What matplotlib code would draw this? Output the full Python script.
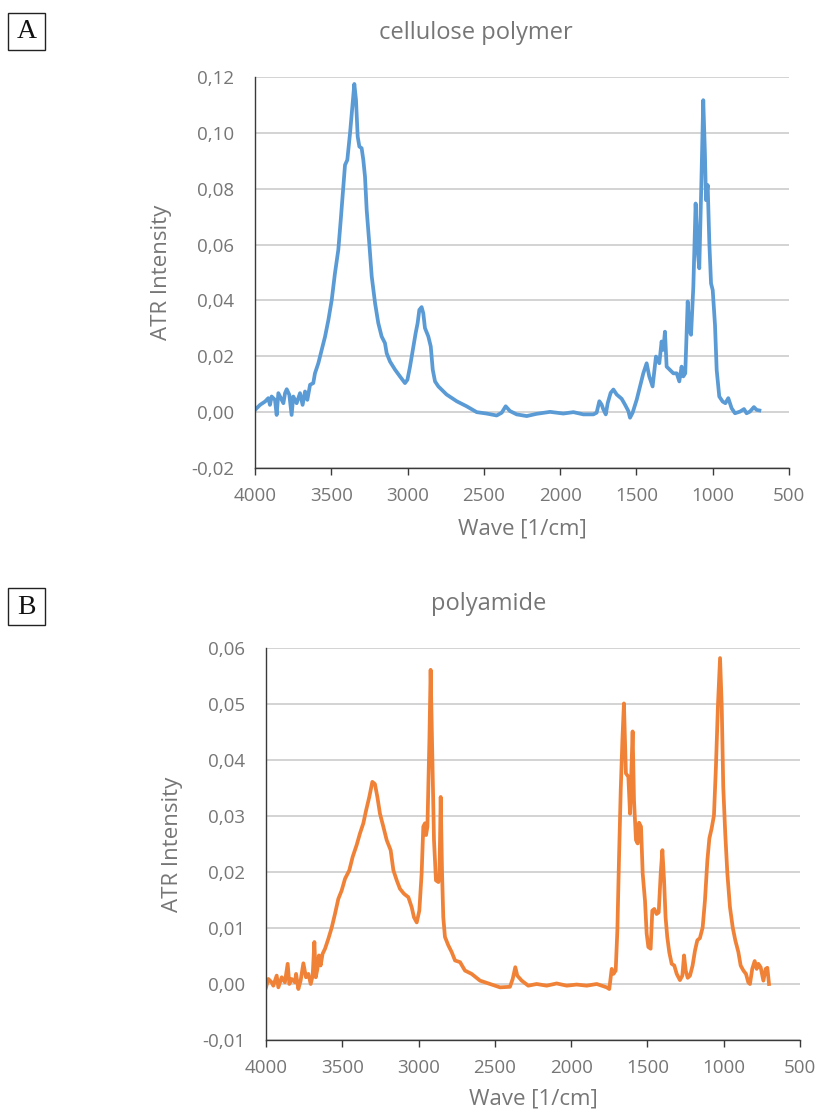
import matplotlib
matplotlib.use('Agg')
import matplotlib.pyplot as plt
from matplotlib.patches import Rectangle
from matplotlib.ticker import FuncFormatter

# === DATA ===
wn_a = [4000, 3967, 3934, 3913, 3902, 3891, 3869, 3858, 3847, 3825, 3814, 3803, 3792,
        3775, 3760, 3749, 3727, 3705, 3688, 3672, 3657, 3639, 3618, 3607, 3585, 3563,
        3541, 3519, 3497, 3476, 3454, 3438, 3421, 3410, 3395, 3377, 3360, 3349, 3338,
        3327, 3316, 3301, 3290, 3279, 3268, 3251, 3235, 3213, 3192, 3170, 3148, 3137,
        3115, 3082, 3050, 3017, 3001, 2984, 2962, 2947, 2934, 2923, 2908, 2897, 2886,
        2864, 2848, 2835, 2820, 2798, 2765, 2744, 2678, 2613, 2547, 2482, 2416, 2383,
        2357, 2329, 2285, 2219, 2154, 2066, 1979, 1913, 1848, 1782, 1761, 1743, 1728,
        1717, 1701, 1688, 1669, 1651, 1629, 1597, 1575, 1553, 1542, 1525, 1498, 1476,
        1455, 1433, 1416, 1394, 1372, 1350, 1335, 1324, 1313, 1302, 1280, 1258, 1236,
        1219, 1204, 1193, 1180, 1164, 1153, 1142, 1127, 1112, 1099, 1088, 1075, 1062,
        1051, 1044, 1033, 1022, 1011, 1000, 985, 974, 957, 935, 917, 898, 876, 854,
        821, 795, 778, 756, 730, 712, 694]
int_a = [0.0008, 0.0026, 0.0038, 0.0050, 0.0026, 0.0056, 0.0044, -0.0010, 0.0068, 0.0044,
         0.0032, 0.0068, 0.0082, 0.0062, -0.0010, 0.0056, 0.0032, 0.0068, 0.0026, 0.0074,
         0.0044, 0.0098, 0.0104, 0.0139, 0.0175, 0.0223, 0.0270, 0.0330, 0.0402, 0.0497,
         0.0581, 0.0688, 0.0808, 0.0885, 0.0903, 0.0999, 0.1106, 0.1175, 0.1118, 0.0987,
         0.0951, 0.0945, 0.0903, 0.0843, 0.0724, 0.0605, 0.0486, 0.0390, 0.0319, 0.0271,
         0.0247, 0.0211, 0.0181, 0.0152, 0.0128, 0.0104, 0.0116, 0.0163, 0.0235, 0.0283,
         0.0319, 0.0366, 0.0376, 0.0354, 0.0301, 0.0271, 0.0235, 0.0152, 0.0110, 0.0092,
         0.0074, 0.0063, 0.0039, 0.0021, 0.0000, -0.0005, -0.0012, -0.0002, 0.0021, 0.0004,
         -0.0008, -0.0014, -0.0006, 0.0001, -0.0005, 0.0000, -0.0008, -0.0008, -0.0002,
         0.0039, 0.0027, 0.0010, -0.0008, 0.0033, 0.0069, 0.0081, 0.0063, 0.0048, 0.0027,
         0.0004, -0.0020, -0.0002, 0.0045, 0.0093, 0.0139, 0.0175, 0.0128, 0.0092, 0.0199,
         0.0175, 0.0253, 0.0223, 0.0288, 0.0163, 0.0151, 0.0139, 0.0139, 0.0110, 0.0163,
         0.0128, 0.0139, 0.0396, 0.0294, 0.0277, 0.0449, 0.0747, 0.0580, 0.0515, 0.0807,
         0.1117, 0.0926, 0.0759, 0.0813, 0.0604, 0.0461, 0.0437, 0.0312, 0.0151, 0.0056,
         0.0038, 0.0032, 0.0050, 0.0014, -0.0004, 0.0002, 0.0011, -0.0004, 0.0002, 0.0018,
         0.0008, 0.0006]

wn_b = [4000, 3985, 3963, 3952, 3930, 3919, 3897, 3876, 3858, 3847, 3832, 3810, 3803,
        3788, 3773, 3755, 3738, 3722, 3707, 3694, 3683, 3674, 3663, 3653, 3642, 3629,
        3613, 3591, 3569, 3548, 3526, 3504, 3482, 3454, 3432, 3406, 3384, 3362, 3344,
        3323, 3303, 3286, 3270, 3253, 3231, 3209, 3183, 3165, 3143, 3122, 3095, 3067,
        3045, 3030, 3012, 2995, 2980, 2969, 2958, 2951, 2942, 2929, 2921, 2912, 2899,
        2886, 2870, 2863, 2855, 2846, 2838, 2827, 2805, 2783, 2761, 2728, 2696, 2652,
        2597, 2532, 2466, 2401, 2383, 2366, 2353, 2324, 2281, 2226, 2160, 2095, 2029,
        1964, 1898, 1832, 1767, 1750, 1734, 1723, 1708, 1697, 1686, 1675, 1664, 1654,
        1641, 1625, 1614, 1597, 1588, 1575, 1564, 1555, 1542, 1531, 1516, 1505, 1494,
        1479, 1468, 1455, 1440, 1426, 1413, 1402, 1391, 1381, 1370, 1357, 1341, 1324,
        1308, 1287, 1271, 1260, 1249, 1236, 1221, 1204, 1188, 1173, 1156, 1138, 1123,
        1107, 1094, 1079, 1064, 1051, 1038, 1024, 1013, 1003, 990, 976, 959, 941, 924,
        904, 889, 871, 854, 839, 828, 813, 797, 784, 773, 758, 740, 725, 714, 703]
int_b = [-0.0006, 0.0009, 0.0003, -0.0003, 0.0015, -0.0006, 0.0012, 0.0003, 0.0036, 0.0000,
         0.0009, 0.0003, 0.0018, -0.0009, 0.0006, 0.0037, 0.0012, 0.0018, 0.0000, 0.0015,
         0.0075, 0.0012, 0.0027, 0.0051, 0.0033, 0.0054, 0.0063, 0.0081, 0.0101, 0.0125,
         0.0152, 0.0167, 0.0188, 0.0203, 0.0227, 0.0248, 0.0269, 0.0287, 0.0310, 0.0334,
         0.0361, 0.0357, 0.0334, 0.0304, 0.0281, 0.0257, 0.0239, 0.0203, 0.0185, 0.0170,
         0.0161, 0.0155, 0.0137, 0.0119, 0.0110, 0.0131, 0.0197, 0.0281, 0.0287, 0.0266,
         0.0281, 0.0436, 0.0561, 0.0436, 0.0257, 0.0185, 0.0182, 0.0197, 0.0334, 0.0197,
         0.0119, 0.0084, 0.0069, 0.0057, 0.0042, 0.0039, 0.0024, 0.0018, 0.0006, 0.0000,
         -0.0006, -0.0005, 0.0009, 0.0030, 0.0015, 0.0006, -0.0003, 0.0000, -0.0003, 0.0001,
         -0.0003, -0.0001, -0.0003, 0.0000, -0.0006, -0.0009, 0.0027, 0.0018, 0.0024, 0.0096,
         0.0227, 0.0346, 0.0436, 0.0501, 0.0376, 0.0370, 0.0304, 0.0451, 0.0328, 0.0257,
         0.0251, 0.0288, 0.0281, 0.0197, 0.0149, 0.0090, 0.0066, 0.0063, 0.0131, 0.0134,
         0.0125, 0.0128, 0.0197, 0.0239, 0.0185, 0.0119, 0.0084, 0.0057, 0.0036, 0.0033,
         0.0018, 0.0007, 0.0015, 0.0051, 0.0024, 0.0011, 0.0015, 0.0033, 0.0060, 0.0078,
         0.0082, 0.0101, 0.0149, 0.0221, 0.0260, 0.0278, 0.0301, 0.0388, 0.0496, 0.0582,
         0.0496, 0.0352, 0.0269, 0.0197, 0.0137, 0.0101, 0.0078, 0.0057, 0.0033, 0.0024,
         0.0018, 0.0003, 0.0000, 0.0027, 0.0041, 0.0027, 0.0036, 0.0030, 0.0006, 0.0027,
         0.0029, 0.0000]

x_ticks = [4000, 3500, 3000, 2500, 2000, 1500, 1000, 500]
yticks_a = [-0.02, 0.00, 0.02, 0.04, 0.06, 0.08, 0.10, 0.12]
yticks_b = [-0.01, 0.00, 0.01, 0.02, 0.03, 0.04, 0.05, 0.06]

# === STYLE ===
plt.rcParams['font.family'] = ['Open Sans', 'DejaVu Sans']
text_grey = '#767676'
W, H = 819, 1115


def comma_fmt(decimals):
    return FuncFormatter(lambda v, pos: f"{v:.{decimals}f}".replace('.', ','))


def style_axes(ax, yticks, decimals):
    ax.set_xlim(4000, 500)
    ax.set_ylim(yticks[0], yticks[-1])
    ax.set_xticks(x_ticks)
    ax.set_yticks(yticks)
    ax.yaxis.set_major_formatter(comma_fmt(decimals))
    ax.grid(axis='y', color='#cccccc', linewidth=1.2)
    ax.set_axisbelow(True)
    for s in ['top', 'right']:
        ax.spines[s].set_visible(False)
    ax.spines['left'].set_color('#3a3a3a')
    ax.spines['bottom'].set_color('#3a3a3a')
    ax.spines['left'].set_linewidth(1.0)
    ax.spines['bottom'].set_linewidth(1.0)
    ax.tick_params(axis='y', length=0, pad=15, labelsize=13.5, labelcolor=text_grey)
    ax.tick_params(axis='x', length=5, width=1, color='#3a3a3a', pad=9,
                   labelsize=13.5, labelcolor=text_grey)
    ax.set_xlabel("Wave [1/cm]", fontsize=16, color=text_grey)
    ax.set_ylabel("ATR Intensity", fontsize=16, color=text_grey)
    ax.yaxis.set_label_coords(-0.155, 0.5)


def panel_box(fig, letter, x0, y0):
    fig.patches.append(Rectangle((x0 / W, 1 - (y0 + 37) / H), 37 / W, 37 / H,
                                 transform=fig.transFigure, fill=False,
                                 edgecolor='#222222', linewidth=1.0))
    fig.text((x0 + 18.5) / W, 1 - (y0 + 19) / H, letter, ha='center', va='center',
             fontsize=20, family='Liberation Serif', color='#111111')


fig = plt.figure(figsize=(W / 100, H / 100), dpi=100)

# --- panel A ---
ax_a = fig.add_axes([255 / W, 1 - 468 / H, 534 / W, 391 / H])
ax_a.plot(wn_a, int_a, color='#5B9BD5', linewidth=2.7, solid_joinstyle='round')
style_axes(ax_a, yticks_a, 2)
ax_a.xaxis.set_label_coords(0.5, -0.13)
fig.text(476 / W, 1 - 33 / H, "cellulose polymer", ha='center', va='center',
         fontsize=17, color=text_grey)
panel_box(fig, "A", 8, 13)

# --- panel B ---
ax_b = fig.add_axes([266 / W, 1 - 1040 / H, 534 / W, 392 / H])
ax_b.plot(wn_b, int_b, color='#F08238', linewidth=2.7, solid_joinstyle='round')
style_axes(ax_b, yticks_b, 2)
ax_b.xaxis.set_label_coords(0.5, -0.125)
fig.text(489 / W, 1 - 604 / H, "polyamide", ha='center', va='center',
         fontsize=17, color=text_grey)
panel_box(fig, "B", 8, 588)

fig.savefig("out.png", dpi=100)
